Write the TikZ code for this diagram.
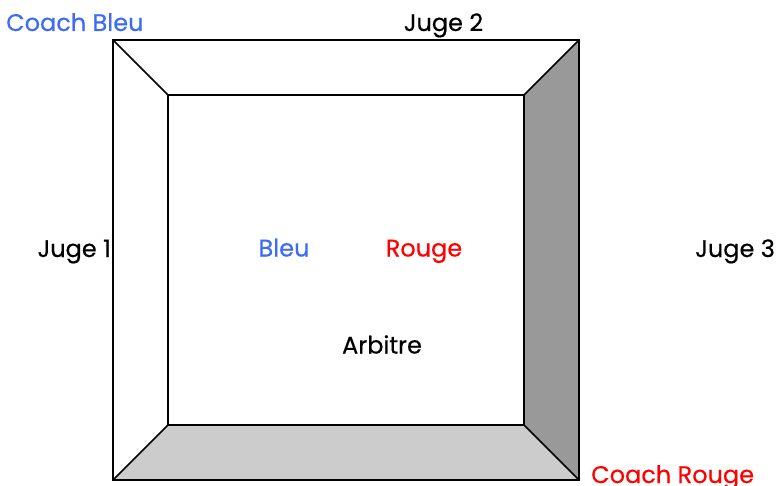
\documentclass[tikz,border=0pt]{standalone}
\usepackage{fontspec}
\setmainfont{Poppins}[FakeBold=0.4]
\definecolor{bleu}{HTML}{3D6BF5}
\definecolor{rouge}{HTML}{FF0000}
\definecolor{darkside}{HTML}{999999}
\definecolor{lightside}{HTML}{CCCCCC}
\begin{document}
\begin{tikzpicture}[x=1pt,y=-1pt,
  lbl/.style={font=\fontsize{24}{28}\selectfont, inner sep=0pt},
  edge/.style={draw=black, line width=1.5pt, line join=miter}]
\useasboundingbox (0,0) rectangle (783,486);
\coordinate (o1) at (113,40);
\coordinate (o2) at (579,40);
\coordinate (o3) at (579,480);
\coordinate (o4) at (113,480);
\coordinate (i1) at (168,95);
\coordinate (i2) at (524,95);
\coordinate (i3) at (524,425);
\coordinate (i4) at (168,425);
\fill[darkside] (o2) -- (o3) -- (i3) -- (i2) -- cycle;
\fill[lightside] (i4) -- (i3) -- (o3) -- (o4) -- cycle;
\draw[edge] (o1) rectangle (o3);
\draw[edge] (i1) rectangle (i3);
\draw[edge] (o1) -- (i1);
\draw[edge] (o2) -- (i2);
\draw[edge] (o3) -- (i3);
\draw[edge] (o4) -- (i4);
\node[lbl, text=bleu, anchor=base west] (cb) at (6,31) {Coach Bleu};
\node[lbl, anchor=base] (j2) at (443.5,31) {Juge 2};
\node[lbl, anchor=base east] (j1) at (111,257) {Juge 1};
\node[lbl, anchor=base west] (j3) at (695,257) {Juge 3};
\node[lbl, text=bleu, anchor=base] (bl) at (284,256.5) {Bleu};
\node[lbl, text=rouge, anchor=base] (ro) at (424,256.5) {Rouge};
\node[lbl, anchor=base] (ar) at (382,353.5) {Arbitre};
\node[lbl, text=rouge, anchor=base west] (cr) at (591,483) {Coach Rouge};
\end{tikzpicture}
\end{document}
